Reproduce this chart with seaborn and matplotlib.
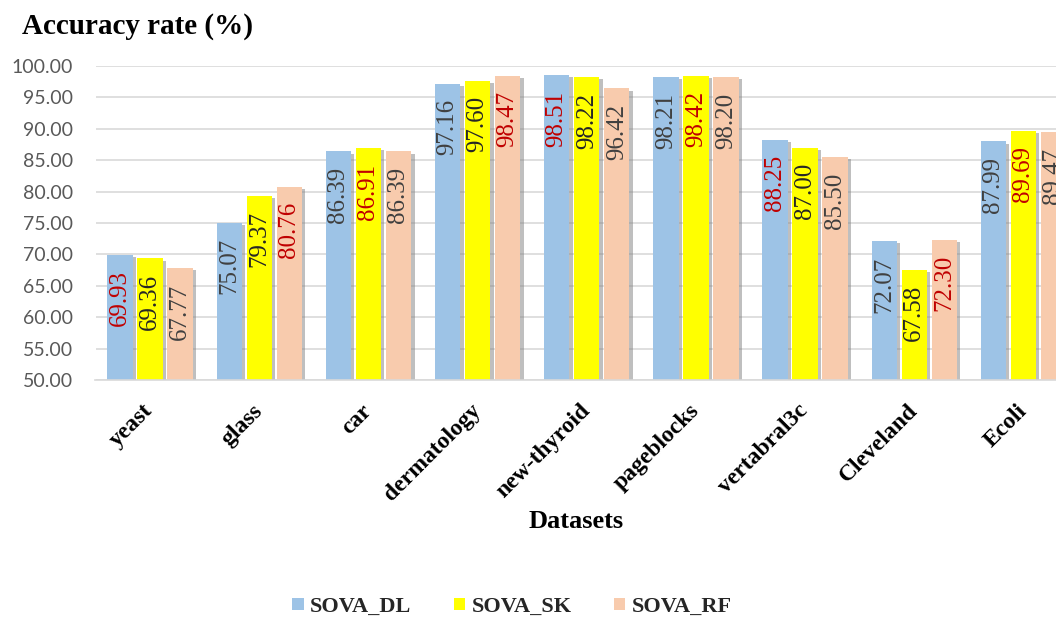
import numpy as np
import pandas as pd
import matplotlib
matplotlib.use("Agg")
import matplotlib.pyplot as plt
import matplotlib.patheffects as pe
import seaborn as sns

# Accuracy (%) of the three SOVA variants on each benchmark dataset
datasets = ["yeast", "glass", "car", "dermatology", "new-thyroid",
            "pageblocks", "vertabral3c", "Cleveland", "Ecoli"]
methods = ["SOVA_DL", "SOVA_SK", "SOVA_RF"]
sova_dl = [69.93, 75.07, 86.39, 97.16, 98.51, 98.21, 88.25, 72.07, 87.99]
sova_sk = [69.36, 79.37, 86.91, 97.60, 98.22, 98.42, 87.00, 67.58, 89.69]
sova_rf = [67.77, 80.76, 86.39, 98.47, 96.42, 98.20, 85.50, 72.30, 89.47]
y_ticks = [50, 55, 60, 65, 70, 75, 80, 85, 90, 95, 100]

series = [sova_dl, sova_sk, sova_rf]
df = pd.DataFrame({
    "Dataset": datasets * len(methods),
    "Method": np.repeat(methods, len(datasets)),
    "Accuracy": sova_dl + sova_sk + sova_rf,
})

sns.set_theme(style="white")
SERIF = "Liberation Serif"
SANS = "Lato"

W, H = 1056, 622
fig = plt.figure(figsize=(W / 100, H / 100), dpi=100)
# plot area runs slightly past the right edge of the canvas
left, right, top, bottom = 95.5, 1078, 66, 380
ax = fig.add_axes([left / W, 1 - bottom / H, (right - left) / W, (bottom - top) / H])

palette = {"SOVA_DL": "#9DC3E6", "SOVA_SK": "#FFFF00", "SOVA_RF": "#F8CBAD"}
sns.barplot(data=df, x="Dataset", y="Accuracy", hue="Method", palette=palette,
            saturation=1, width=0.825, gap=0.16, errorbar=None, ax=ax,
            linewidth=0, legend=True)

shadow = [pe.SimplePatchShadow(offset=(2.5, -1.5), shadow_rgbFace="#808080", alpha=0.5),
          pe.Normal()]
for bar in ax.patches:
    bar.set_path_effects(shadow)

# value labels inside each bar, best score per dataset in red
best = np.max(np.array(series), axis=0)
text_dark = ["#404040", "#262626", "#404040"]
for k, container in enumerate(ax.containers):
    for i, bar in enumerate(container.patches):
        val = series[k][i]
        color = "#C00000" if val >= best[i] else text_dark[k]
        ax.annotate(f"{val:.2f}",
                    xy=(bar.get_x() + bar.get_width() / 2, bar.get_height()),
                    xytext=(0, -11), textcoords="offset points",
                    rotation=90, ha="center", va="top",
                    fontsize=18, family=SERIF, color=color)

ax.set_ylim(50, 100)
ax.set_xlim(-0.5, len(datasets) - 0.5)
ax.set_yticks(y_ticks)
ax.set_yticklabels([f"{v:.2f}" for v in y_ticks], fontsize=14, family=SANS, color="#595959")
ax.set_xticks(range(len(datasets)))
ax.set_xticklabels(datasets, rotation=45, ha="right", va="center",
                   rotation_mode="anchor", fontsize=17, family=SERIF,
                   fontweight="bold", color="black")
ax.tick_params(axis="x", length=0, pad=20)
ax.tick_params(axis="y", length=0, pad=16)
ax.set_xlabel("")
ax.set_ylabel("")

ax.yaxis.grid(True, color="#D9D9D9", linewidth=1.2)
ax.xaxis.grid(False)
ax.set_axisbelow(True)
for side in ["top", "right", "left"]:
    ax.spines[side].set_visible(False)
ax.spines["bottom"].set_color("#D9D9D9")
ax.spines["bottom"].set_linewidth(1.2)

fig.text(22 / W, 1 - 13 / H, "Accuracy rate (%)", ha="left", va="top",
         fontsize=21, family=SERIF, fontweight="bold", color="black")
fig.text(576 / W, 1 - 522 / H, "Datasets", ha="center", va="center",
         fontsize=19, family=SERIF, fontweight="bold", color="black")

sns.move_legend(ax, "center", bbox_to_anchor=(512 / W, 1 - 607 / H),
                bbox_transform=fig.transFigure, ncol=3, frameon=False, title=None,
                handlelength=0.5, handleheight=0.5, handletextpad=0.3,
                columnspacing=1.9,
                prop={"family": SERIF, "weight": "bold", "size": 16})

fig.savefig("out.png", dpi=100)
